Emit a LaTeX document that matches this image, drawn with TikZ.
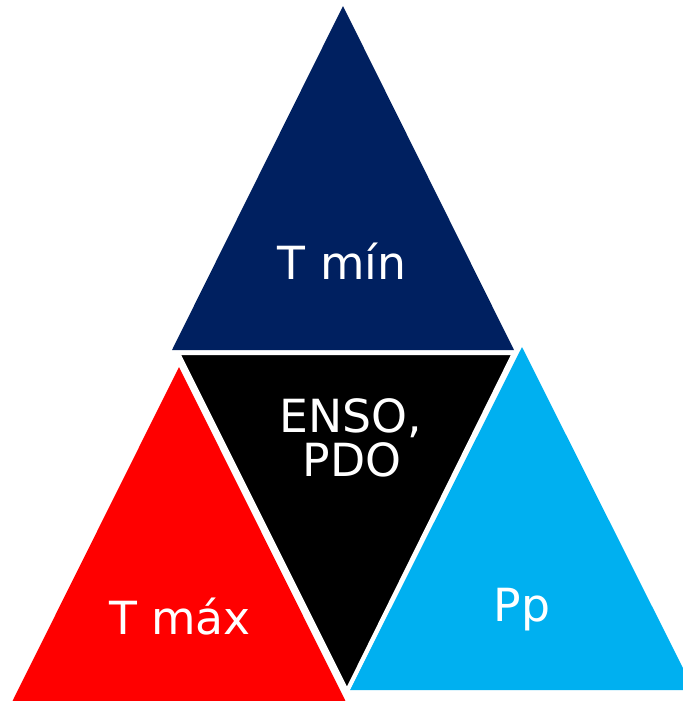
\documentclass[tikz,border=0pt]{standalone}
\usepackage{fontspec}
\setmainfont{DejaVu Sans}
\definecolor{navy}{HTML}{002060}
\definecolor{skyblue}{HTML}{00B0F0}
\definecolor{pureRed}{HTML}{FF0000}
\tikzset{
  label text/.style={text=white, font=\fontsize{26}{31}\selectfont, anchor=base, inner sep=0pt},
  tri/.style={draw=none}
}
\begin{document}
\begin{tikzpicture}[x=0.02cm,y=-0.02cm]
  \useasboundingbox (0,0) rectangle (683,701);
  \clip (0,0) rectangle (683,701);
  % top triangle
  \fill[navy] (343,6) -- (514,350) -- (172,350) -- cycle;
  % left triangle
  \fill[pureRed] (179,367) -- (346,702) -- (12,702) -- cycle;
  % right triangle
  \fill[skyblue] (522,347) -- (694,690) -- (350,690) -- cycle;
  % centre triangle
  \filldraw[fill=black, draw=white, line width=0.08cm, line join=miter]
    (178,353) -- (514,353) -- (347,691) -- cycle;
	\node[label text] (tmin) at (342,279) {T mín};
	\node[label text] (enso) at (351,432) {ENSO,};
	\node[label text] (pdo) at (352,476) {PDO};
	\node[label text] (tmax) at (180,634) {T máx};
	\node[label text] (pp) at (522,621) {Pp};
\end{tikzpicture}
\end{document}
